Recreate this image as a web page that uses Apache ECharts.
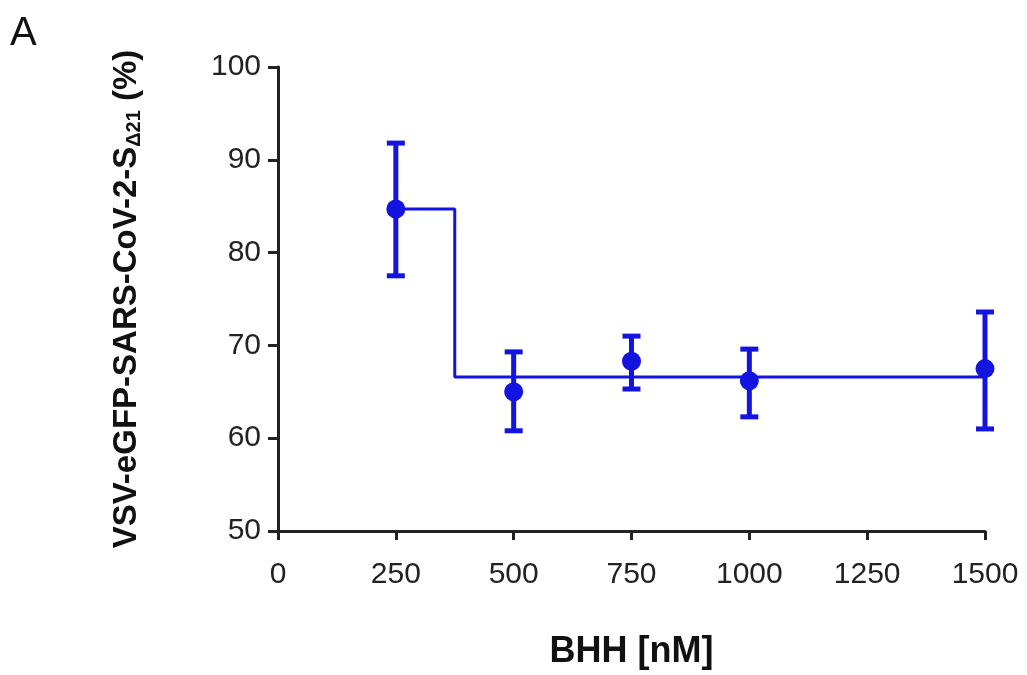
<!DOCTYPE html>
<html>
<head>
<meta charset="utf-8">
<script src="https://cdn.jsdelivr.net/npm/echarts@6/dist/echarts.min.js"></script>
<style>
html, body { margin: 0; padding: 0; background: #fff; }
#chart { width: 1027px; height: 675px; }
</style>
</head>
<body>
<div id="chart"></div>
<script>
// 数据
const doses = [250, 500, 750, 1000, 1500]
const means = [84.7, 65.0, 68.3, 66.2, 67.5]
const upper = [91.8, 69.3, 71.0, 69.6, 73.6]
const lower = [77.5, 60.8, 65.3, 62.3, 61.0]
// 阶梯拟合线
const fitX = [250, 375, 375, 1500]
const fitY = [84.7, 84.7, 66.6, 66.6]
const xTicks = [0, 250, 500, 750, 1000, 1250, 1500]
const yTicks = [50, 60, 70, 80, 90, 100]

const blue = '#1414e0'
const axisColor = '#222'
const chart = echarts.init(document.getElementById('chart'))

const option = {
    animation: false,
    grid: { left: 278, right: 42, top: 67, bottom: 142 },
    graphic: [{
        type: 'text', left: 10, top: 14,
        style: { text: 'A', font: '40px Liberation Sans, Arial', fill: '#111' }
    }],
    xAxis: {
        type: 'value',
        min: xTicks[0], max: xTicks[xTicks.length - 1], interval: 250,
        name: 'BHH [nM]',
        nameLocation: 'middle',
        nameGap: 103,
        nameTextStyle: { fontFamily: 'Liberation Sans', fontWeight: 'bold', fontSize: 36, color: '#111' },
        splitLine: { show: false },
        axisLine: { lineStyle: { color: axisColor, width: 3 } },
        axisTick: { length: 9, lineStyle: { color: axisColor, width: 3 } },
        axisLabel: {
            fontFamily: 'Liberation Sans', fontSize: 30, color: '#222', margin: 29,
            formatter: v => String(v)
        }
    },
    yAxis: {
        type: 'value',
        min: yTicks[0], max: yTicks[yTicks.length - 1], interval: 10,
        name: 'VSV-eGFP-SARS-CoV-2-S{sub|Δ21} (%)',
        nameLocation: 'middle',
        nameRotate: 90,
        nameGap: 134,
        nameTextStyle: {
            fontFamily: 'Liberation Sans', fontWeight: 'bold', fontSize: 33, color: '#111',
            rich: {
                sub: { fontFamily: 'Liberation Sans', fontSize: 20, color: '#111', padding: [15, 0, 0, 0] }
            }
        },
        splitLine: { show: false },
        axisLine: { show: true, lineStyle: { color: axisColor, width: 3 } },
        axisTick: { show: true, length: 10, lineStyle: { color: axisColor, width: 3 } },
        axisLabel: { fontFamily: 'Liberation Sans', fontSize: 30, color: '#222', margin: 17 }
    },
    series: [
        {
            type: 'line',
            data: fitX.map((x, i) => [x, fitY[i]]),
            showSymbol: false,
            lineStyle: { color: blue, width: 3 },
            z: 2
        },
        {
            type: 'custom',
            renderItem: function (params, api) {
                const x = api.value(0)
                const top = api.coord([x, api.value(1)])
                const bot = api.coord([x, api.value(2)])
                const w = 9
                const style = { stroke: blue, lineWidth: 5 }
                return {
                    type: 'group',
                    children: [
                        { type: 'line', shape: { x1: top[0], y1: top[1], x2: bot[0], y2: bot[1] }, style: style },
                        { type: 'line', shape: { x1: top[0] - w, y1: top[1], x2: top[0] + w, y2: top[1] }, style: style },
                        { type: 'line', shape: { x1: bot[0] - w, y1: bot[1], x2: bot[0] + w, y2: bot[1] }, style: style }
                    ]
                }
            },
            data: doses.map((d, i) => [d, upper[i], lower[i]]),
            z: 3
        },
        {
            type: 'scatter',
            data: doses.map((d, i) => [d, means[i]]),
            symbol: 'circle',
            symbolSize: 19,
            itemStyle: { color: blue, opacity: 1 },
            z: 4
        }
    ]
}
chart.setOption(option)
</script>
</body>
</html>
